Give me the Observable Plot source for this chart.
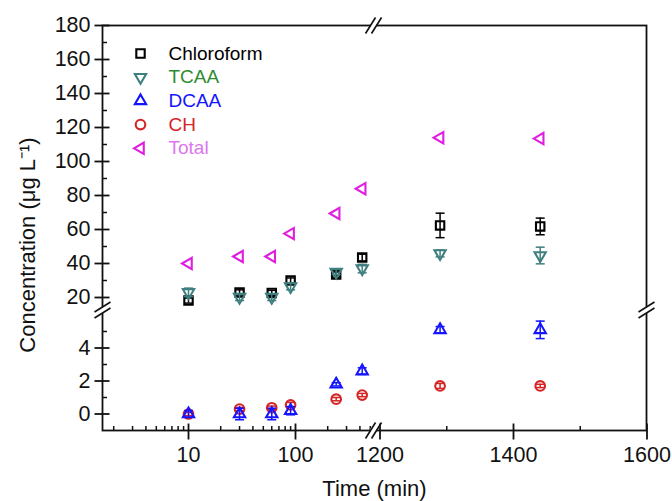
<!DOCTYPE html>
<html><head><meta charset="utf-8">
<script src="https://cdn.jsdelivr.net/npm/d3@7"></script>
<script src="https://cdn.jsdelivr.net/npm/@observablehq/plot@0.6"></script>
<style>body{margin:0;background:#fff} svg{font-family:"Liberation Sans",Arial,sans-serif}</style>
</head><body><div id="chart"></div>
<script>
// ---- data ----
const times = [10, 30, 60, 90, 240, 420, 1290, 1440];
const chloroform = [18.2, 23.0, 22.7, 30.0, 33.5, 43.5, 62.4, 61.8];
const chloroformErr = [1.5, 1.5, 1.5, 1.5, 1.5, 2.0, 7.2, 4.9];
const tcaa = [23.0, 20.2, 20.2, 26.5, 35.0, 37.0, 45.9, 44.7];
const tcaaErr = [2.5, 2.0, 2.0, 2.0, 1.5, 2.5, 2.0, 4.9];
const dcaa = [0.0, 0.0, 0.0, 0.2, 1.8, 2.6, 5.1, 5.1];
const dcaaErr = [0.2, 0.35, 0.35, 0.25, 0.1, 0.2, 0.2, 0.53];
const ch = [0.0, 0.3, 0.38, 0.55, 0.9, 1.15, 1.7, 1.7];
const chErr = [0.1, 0.1, 0.1, 0.15, 0.1, 0.1, 0.15, 0.1];
const total = [40.0, 44.1, 44.1, 57.6, 69.4, 84.0, 114.0, 113.5];

const seriesNames = ["Chloroform", "TCAA", "DCAA", "CH", "Total"];
const seriesValues = [chloroform, tcaa, dcaa, ch, total];
const seriesErrors = [chloroformErr, tcaaErr, dcaaErr, chErr, null];
const markerColors = ["#000000", "#3f7f7f", "#1414ff", "#d42424", "#e01ee0"];
const labelColors = ["#000000", "#2e8b2e", "#1414ff", "#d42424", "#dd77ee"];
const drawOrder = [0, 1, 3, 2, 4];

const xMajorTicks = [10, 100, 1200, 1400, 1600];
const xMinorTicks = [2, 3, 4, 5, 6, 7, 8, 9, 20, 30, 40, 50, 60, 70, 80, 90, 200, 300, 400, 500, 1300, 1500];
const xTickLabels = ["10", "100", "1200", "1400", "1600"];
const yMajorTicks = [0, 2, 4, 20, 40, 60, 80, 100, 120, 140, 160, 180];
const yMinorTicks = [1, 3, 5, 30, 50, 70, 90, 110, 130, 150, 170];
const yTickLabels = ["0", "2", "4", "20", "40", "60", "80", "100", "120", "140", "160", "180"];
const xBreak = [536];
const yBreak = [6.3];

// ---- broken-axis scale transforms (log segment + linear segment; two linear segments) ----
const xT = t => t < 800 ? (Math.log10(t) - 1) * 107 + 86 : 277.5 + (t - 1200) * 0.6675;
const yT = v => v < 10 ? (v + 1) * 16.5 : 133 + (v - 20) * 1.7;

// ---- symbols ----
const tri = angle => ({draw(ctx) {
  const r = 6.5;
  for (let i = 0; i < 3; i++) {
    const a = angle + i * 2 * Math.PI / 3;
    const px = r * Math.cos(a), py = r * Math.sin(a);
    if (i) ctx.lineTo(px, py); else ctx.moveTo(px, py);
  }
  ctx.closePath();
}});
const squareSym = {draw(ctx) { const h = 4.2; ctx.moveTo(-h, -h); ctx.lineTo(h, -h); ctx.lineTo(h, h); ctx.lineTo(-h, h); ctx.closePath(); }};
const circleSym = {draw(ctx) { const r = 4.8; ctx.moveTo(r, 0); ctx.arc(0, 0, r, 0, 2 * Math.PI); }};
const symbols = [squareSym, tri(Math.PI / 2), tri(-Math.PI / 2), circleSym, tri(Math.PI)];
const seg = (x1, y1, x2, y2) => ({draw(ctx) { ctx.moveTo(x1, y1); ctx.lineTo(x2, y2); }});
const capSym = seg(-4.5, 0, 4.5, 0);
const poly = pts => ({draw(ctx) { pts.forEach(([a, b], i) => i ? ctx.lineTo(a, b) : ctx.moveTo(a, b)); ctx.closePath(); }});
const twoLines = (l1, l2) => ({draw(ctx) { ctx.moveTo(...l1[0]); ctx.lineTo(...l1[1]); ctx.moveTo(...l2[0]); ctx.lineTo(...l2[1]); }});

const xBreakMask = poly([[-3, -2.5], [3, -2.5], [3, 2.5], [-3, 2.5]]);
const xBreakLines = twoLines([[-8, 8], [2, -8]], [[-2, 8], [8, -8]]);
const yBreakMask = poly([[-2.5, -3], [2.5, -3], [2.5, 3], [-2.5, 3]]);
const yBreakLines = twoLines([[-8, 2], [8, -8]], [[-8, 8], [8, -2]]);

// ---- rows ----
const rows = [];
seriesNames.forEach((name, i) => times.forEach((t, j) => {
  const e = seriesErrors[i] ? seriesErrors[i][j] : 0;
  rows.push({series: i, t, v: seriesValues[i][j], e});
}));

const marks = [Plot.frame({stroke: "#111", strokeWidth: 1.8})];

for (const i of drawOrder) {
  const d = rows.filter(r => r.series === i);
  const de = d.filter(r => r.e > 0);
  const c = markerColors[i];
  marks.push(
    Plot.ruleX(de, {x: "t", y1: r => r.v - r.e, y2: r => r.v + r.e, stroke: c, strokeWidth: 1.5}),
    Plot.dot(de, {x: "t", y: r => r.v - r.e, symbol: capSym, stroke: c, fill: "none", strokeWidth: 1.5}),
    Plot.dot(de, {x: "t", y: r => r.v + r.e, symbol: capSym, stroke: c, fill: "none", strokeWidth: 1.5}),
    Plot.dot(d, {x: "t", y: "v", symbol: symbols[i], stroke: c, fill: "none", strokeWidth: 2.1})
  );
}

// axes (ticks drawn as marks through the scales)
marks.push(
  Plot.dot(xMajorTicks, {x: d => d, frameAnchor: "bottom", symbol: seg(0, -7, 0, 9), stroke: "#111", fill: "none", strokeWidth: 1.8}),
  Plot.dot(xMinorTicks, {x: d => d, frameAnchor: "bottom", symbol: seg(0, -4.5, 0, 0), stroke: "#111", fill: "none", strokeWidth: 1.5}),
  Plot.text(xMajorTicks, {x: d => d, text: (d, i) => xTickLabels[i], frameAnchor: "bottom", lineAnchor: "middle", dy: 25, fontSize: 21.5, fill: "#111"}),
  Plot.dot(yMajorTicks, {y: d => d, frameAnchor: "left", symbol: seg(-8, 0, 7, 0), stroke: "#111", fill: "none", strokeWidth: 1.8}),
  Plot.dot(yMinorTicks, {y: d => d, frameAnchor: "left", symbol: seg(0, 0, 4.5, 0), stroke: "#111", fill: "none", strokeWidth: 1.5}),
  Plot.text(yMajorTicks, {y: d => d, text: (d, i) => yTickLabels[i], frameAnchor: "left", lineAnchor: "middle", dx: -12, textAnchor: "end", fontSize: 21.5, fill: "#111"}),
  // breaks
  Plot.dot(xBreak, {x: d => d, frameAnchor: "top", symbol: xBreakMask, fill: "white", stroke: "none"}),
  Plot.dot(xBreak, {x: d => d, frameAnchor: "top", symbol: xBreakLines, stroke: "#111", fill: "none", strokeWidth: 1.6}),
  Plot.dot(xBreak, {x: d => d, frameAnchor: "bottom", symbol: xBreakMask, fill: "white", stroke: "none"}),
  Plot.dot(xBreak, {x: d => d, frameAnchor: "bottom", symbol: xBreakLines, stroke: "#111", fill: "none", strokeWidth: 1.6}),
  Plot.dot(yBreak, {y: d => d, frameAnchor: "left", symbol: yBreakMask, fill: "white", stroke: "none"}),
  Plot.dot(yBreak, {y: d => d, frameAnchor: "left", symbol: yBreakLines, stroke: "#111", fill: "none", strokeWidth: 1.6}),
  Plot.dot(yBreak, {y: d => d, frameAnchor: "right", symbol: yBreakMask, fill: "white", stroke: "none"}),
  Plot.dot(yBreak, {y: d => d, frameAnchor: "right", symbol: yBreakLines, stroke: "#111", fill: "none", strokeWidth: 1.6}),
  // titles
  Plot.text(["Time (min)"], {text: d => d, frameAnchor: "bottom", lineAnchor: "middle", textAnchor: "middle", dy: 58, fontSize: 22, fill: "#111"}),
  Plot.text(["Concentration (μg L⁻¹)"], {text: d => d, frameAnchor: "left", lineAnchor: "middle", textAnchor: "middle", dx: -75, dy: 17, rotate: -90, fontSize: 22, fill: "#111"})
);

// legend inside the frame
seriesNames.forEach((name, i) => {
  marks.push(
    Plot.dot([name], {frameAnchor: "top-left", dx: 38, dy: 28 + i * 23.7, symbol: symbols[i], stroke: markerColors[i], fill: "none", strokeWidth: 2.1}),
    Plot.text([name], {text: d => d, frameAnchor: "top-left", lineAnchor: "middle", dx: 66, dy: 28 + i * 23.7, textAnchor: "start", fontSize: 19, fill: labelColors[i]})
  );
});

const chart = Plot.plot({
  width: 672, height: 501,
  marginTop: 25, marginRight: 26, marginBottom: 71, marginLeft: 102,
  x: {type: "linear", transform: xT, domain: [0, 544], axis: null},
  y: {type: "linear", transform: yT, domain: [0, 405], axis: null},
  style: {fontFamily: "'Liberation Sans', Arial, sans-serif", background: "white"},
  marks
});
document.getElementById("chart").appendChild(chart);
</script></body></html>
